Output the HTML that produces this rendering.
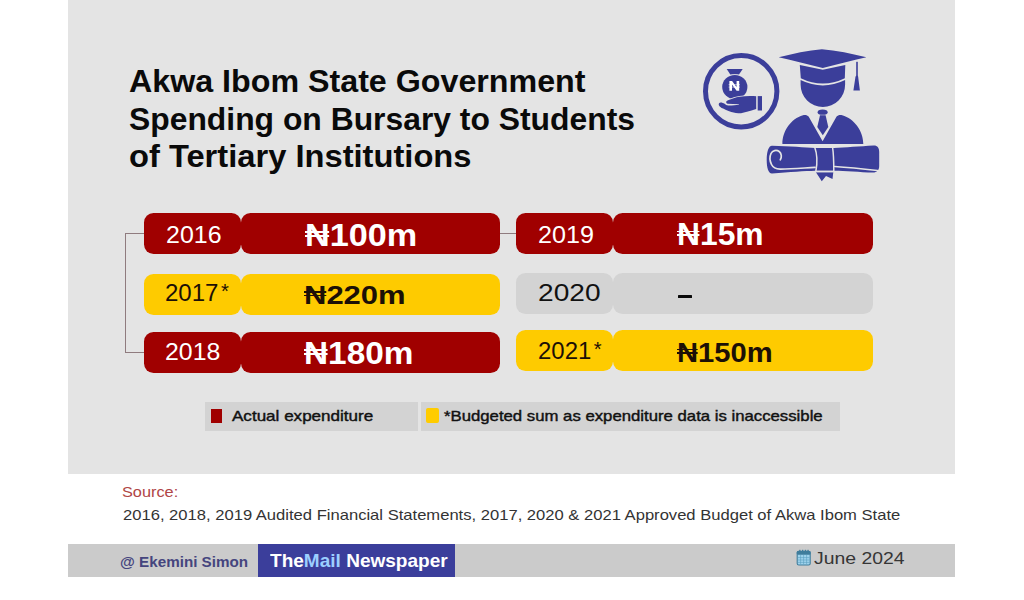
<!DOCTYPE html>
<html><head><meta charset="utf-8"><style>
*{margin:0;padding:0;box-sizing:border-box}
html,body{width:1024px;height:600px;background:#fff;overflow:hidden}
body{position:relative;font-family:"Liberation Sans",sans-serif}
.abs{position:absolute}
.tx{position:absolute;white-space:nowrap;line-height:1;transform-origin:0 0}
#lg1,#lg2{-webkit-text-stroke:0.4px #111}
.nr{position:relative;display:inline-block}
.ast{font-size:0.84em;position:relative;top:-0.13em;margin-left:0.12em}
.nr::before,.nr::after{content:'';position:absolute;left:0.012em;width:0.698em;height:0.05em;background:currentColor}
.nr::before{top:0.355em}.nr::after{top:0.477em}
#panel{left:68px;top:0;width:887px;height:474px;background:#e4e4e4}
.yr{position:absolute;width:97px;height:41.3px;border-radius:9.5px}
.val{position:absolute;width:260px;height:41.3px;border-radius:9.5px}
.red{background:#a00000}
.yel{background:#fecb00}
.gry{background:#d3d3d3}
.ln{position:absolute;background:#8f7b7e}
</style></head><body>
<div id="panel" class="abs"></div>

<!-- connectors -->
<div class="ln" style="left:125px;top:233px;width:1px;height:120px"></div>
<div class="ln" style="left:125px;top:233px;width:19px;height:1px"></div>
<div class="ln" style="left:125px;top:352px;width:19px;height:1px"></div>
<div class="ln" style="left:499px;top:233px;width:18px;height:1px"></div>

<!-- left column -->
<div class="yr red" style="left:143.5px;top:213px"></div>
<div class="val red" style="left:240.5px;top:213px;width:259px"></div>
<div class="yr yel" style="left:143.5px;top:274px"></div>
<div class="val yel" style="left:240.5px;top:274px;width:259px"></div>
<div class="yr red" style="left:143.5px;top:331.9px"></div>
<div class="val red" style="left:240.5px;top:331.9px;width:259px"></div>
<!-- right column -->
<div class="yr red" style="left:516.3px;top:213px;width:96.7px"></div>
<div class="val red" style="left:613px;top:213px"></div>
<div class="yr gry" style="left:516.3px;top:272.8px;width:96.7px"></div>
<div class="val gry" style="left:613px;top:272.8px"></div>
<div class="yr yel" style="left:516.3px;top:330.2px;width:96.7px"></div>
<div class="val yel" style="left:613px;top:330.2px"></div>

<div class="abs" style="left:678.2px;top:295px;width:13.4px;height:3.3px;background:#0a0a0a;border-radius:0.5px"></div>

<!-- icons -->
<svg class="abs" style="left:0;top:0" width="1024" height="600" viewBox="0 0 1024 600">
<g fill="#3b3e9a" stroke="#e4e4e4" stroke-width="1.6" stroke-linejoin="round" paint-order="stroke">
 <circle cx="741.2" cy="91.2" r="35.7" fill="none" stroke="#3b3e9a" stroke-width="5"/>
 <!-- money bag -->
 <path d="M726.7,69 L742.7,69 L739,74.6 L730.3,74.6 Z" stroke="none"/>
 <ellipse cx="734.8" cy="87" rx="12.6" ry="12"/>
 <path d="M729.4,90.8 V81 H732.1 L736.6,87.2 V81 H739.2 V90.8 H736.6 L732,84.6 V90.8 Z" fill="#fff" stroke="none"/>
 <path d="M728.6,84.7 H740 M728.6,87.1 H740" stroke="#fff" stroke-width="0.6" fill="none"/>
 <!-- hand -->
 <path d="M756.2,96.3 C752,95.9 745,95.9 739.4,96.8 C736,97.3 731,99 728.7,100.1 C727,100.8 726.1,101.5 726.2,102.3 C726.3,103.2 726.8,103.6 727.6,103.8 L738.9,104.2 L738.9,104.8 C736,105.4 731,105.7 728.2,105.6 C726.5,105.4 725.5,104.6 724.6,103.8 C723.3,102.9 721.8,102.3 720.6,102.4 C719.3,102.6 718.5,103.6 718.8,104.9 C719.5,106.6 721,107.5 723.1,108.6 C725,109.8 727,110.7 729.2,111.3 C732,112.3 735,113.2 738.4,113.3 C741.5,113.4 744,112.7 747,111.8 C750,110.9 753,109.9 756.2,109 Z"/>
 <rect x="757.7" y="96.1" width="4.3" height="14.4" stroke="none"/>
 <!-- mortarboard -->
 <path d="M778.7,57.3 C793,53.5 808,50.5 821.9,49.2 C836,50.5 852,53.5 866.4,57.3 C852,60.5 837,64.5 822.8,67.9 C808,64.5 793,60.5 778.7,57.3 Z" stroke="none"/>
 <path d="M799.8,65.1 L822.8,69.8 L845.3,64.9 L844.8,78.2 Q822.8,89 800.8,78.2 Z" stroke="none"/>
 <path d="M800.6,80 Q822.8,90.8 845.1,80 L845.1,84.8 A22.25,22.25 0 0 1 800.6,84.8 Z" stroke="none"/>
 <rect x="856.2" y="61.8" width="1.6" height="15" stroke="none"/>
 <path d="M856.9,75.5 C858,75.5 858.3,76.5 858.3,78 L859.9,90.4 L853.4,90.4 L855.3,78 C855.4,76.5 855.8,75.5 856.9,75.5 Z" stroke="none"/>
 <!-- jacket -->
 <path d="M782.4,144 C782.4,131 791,118.5 803,115.2 C805.5,114.6 807.5,115.3 808.6,116.6 L822.6,141.2 L836.6,116.6 C837.7,115.3 839.7,114.6 842.2,115.2 C854.2,118.5 863.3,131 863.3,144 Z" stroke="none"/>
 <ellipse cx="822.6" cy="112.2" rx="5" ry="2.6" stroke="none"/>
 <path d="M820,115.2 L825.6,115.2 L828.3,127 L822.8,135.3 L817.3,127 Z" stroke="none"/>
 <!-- scroll -->
 <path d="M772,145.8 C790,146.3 805,147.5 815,148 L834,148 C845,147.5 860,146.3 873.5,145.5 C877.5,145.3 879.2,148 879.2,152 L879.2,166 C879.2,170 877,172.5 873,172.6 C860,172 845,171 834,170.7 L815,170.7 C805,171 790,172 772,173.4 C768.5,173.5 766.7,168 766.7,160 C766.7,152 768.5,145.8 772,145.8 Z"/>
 <path d="M815.9,172.3 L833.3,172.3 L832.5,179 L826,176 L821.8,181.2 Z" stroke="none"/>
</g>
<g fill="none" stroke="#e4e4e4" stroke-width="1.5" stroke-linecap="round">
 <path d="M780.3,159.8 C781.8,157.5 781.8,153.5 779.2,151.5 C776.5,149.5 772.5,150.3 771,153.5 C769.6,156.5 769.8,161 771.5,164.5 C773,167.5 776,169 780,169.1 C790,169.2 803,168 815,167.3" stroke-width="1.7"/>
 <path d="M834.6,166.4 C848,167.2 862,168.6 877.4,170.4"/>
 <path d="M814.8,147.5 C817.2,154 817.2,164 815.9,171.2"/>
 <path d="M832.6,147.5 C833.6,154 833.8,164 833.8,171.2"/>
 <path d="M815.9,171.6 L833.5,171.6"/>
</g>
</svg>

<!-- legend -->
<div class="abs" style="left:205px;top:402px;width:212.6px;height:29.3px;background:#d3d3d3"></div>
<div class="abs" style="left:421.1px;top:402px;width:418.6px;height:29.3px;background:#d3d3d3"></div>
<div class="abs" style="left:210.5px;top:408.8px;width:11.4px;height:13.8px;background:#a00000"></div>
<div class="abs" style="left:426px;top:408px;width:12.5px;height:15px;background:#ffcc00;border-radius:2px"></div>

<!-- footer -->
<div class="abs" style="left:68px;top:544px;width:887px;height:33px;background:#cbcbcb"></div>
<div class="abs" style="left:257.5px;top:544px;width:197px;height:33px;background:#3b3e9b"></div>
<!-- calendar -->
<svg class="abs" style="left:0;top:0" width="1024" height="600" viewBox="0 0 1024 600">
 <rect x="797.2" y="551.2" width="13" height="13.8" rx="1.6" fill="#9fd3ec" stroke="#3f7d9c" stroke-width="1.1"/>
 <rect x="796.8" y="551" width="13.8" height="3.8" rx="1.2" fill="#3f7d9c"/>
 <g fill="#3f7d9c"><rect x="799.2" y="549.8" width="1.3" height="2.6"/><rect x="802" y="549.8" width="1.3" height="2.6"/><rect x="804.8" y="549.8" width="1.3" height="2.6"/><rect x="807.4" y="549.8" width="1.3" height="2.6"/></g>
 <g stroke="#5b9dc0" stroke-width="0.6">
  <path d="M798,557.6 H809.6 M798,560 H809.6 M798,562.4 H809.6"/>
  <path d="M800.6,555 V564.2 M803.6,555 V564.2 M806.6,555 V564.2"/>
 </g>
</svg>

<div id="t1" class="tx" style="left:129.46px;top:66.18px;font-size:30.5px;font-weight:bold;color:#0a0a0a;transform:scaleX(1.0562)">Akwa Ibom State Government</div>
<div id="t2" class="tx" style="left:129.44px;top:103.78px;font-size:30.5px;font-weight:bold;color:#0a0a0a;transform:scaleX(1.0440)">Spending on Bursary to Students</div>
<div id="t3" class="tx" style="left:129.39px;top:141.18px;font-size:30.5px;font-weight:bold;color:#0a0a0a;transform:scaleX(1.0713)">of Tertiary Institutions</div>
<div id="y16" class="tx" style="left:165.94px;top:222.71px;font-size:24.2px;font-weight:normal;color:#fff;transform:scaleX(1.0318)">2016</div>
<div id="y17" class="tx" style="left:165.49px;top:280.61px;font-size:24.2px;font-weight:normal;color:#1c1006;transform:scaleX(0.9941)">2017<span class="ast">*</span></div>
<div id="y18" class="tx" style="left:165.46px;top:340.21px;font-size:24.2px;font-weight:normal;color:#fff;transform:scaleX(1.0280)">2018</div>
<div id="y19" class="tx" style="left:537.96px;top:222.51px;font-size:24.2px;font-weight:normal;color:#fff;transform:scaleX(1.0396)">2019</div>
<div id="y20" class="tx" style="left:537.84px;top:281.31px;font-size:24.2px;font-weight:normal;color:#111;transform:scaleX(1.1618)">2020</div>
<div id="y21" class="tx" style="left:538.01px;top:338.61px;font-size:24.2px;font-weight:normal;color:#1c1006;transform:scaleX(0.9907)">2021<span class="ast">*</span></div>
<div id="v100" class="tx" style="left:304.51px;top:220.18px;font-size:31.2px;font-weight:bold;color:#fff;transform:scaleX(1.0973)"><span class="nr">N</span>100m</div>
<div id="v220" class="tx" style="left:304.40px;top:281.95px;font-size:26.4px;font-weight:bold;color:#1c1006;transform:scaleX(1.1741)"><span class="nr">N</span>220m</div>
<div id="v180" class="tx" style="left:304.49px;top:338.28px;font-size:31.2px;font-weight:bold;color:#fff;transform:scaleX(1.0703)"><span class="nr">N</span>180m</div>
<div id="v15" class="tx" style="left:677.48px;top:219.48px;font-size:31.2px;font-weight:bold;color:#fff;transform:scaleX(1.0197)"><span class="nr">N</span>15m</div>
<div id="v150" class="tx" style="left:677.47px;top:339.61px;font-size:26.8px;font-weight:bold;color:#1c1006;transform:scaleX(1.0885)"><span class="nr">N</span>150m</div>
<div id="lg1" class="tx" style="left:232.36px;top:409.01px;font-size:14.4px;font-weight:normal;color:#111;transform:scaleX(1.1849)">Actual expenditure</div>
<div id="lg2" class="tx" style="left:443.90px;top:409.21px;font-size:14.4px;font-weight:normal;color:#111;transform:scaleX(1.1630)">*Budgeted sum as expenditure data is inaccessible</div>
<div id="src1" class="tx" style="left:122.37px;top:484.58px;font-size:14.2px;font-weight:normal;color:#b04545;transform:scaleX(1.1489)">Source:</div>
<div id="src2" class="tx" style="left:123.35px;top:508.14px;font-size:14.6px;font-weight:normal;color:#333;transform:scaleX(1.1364)">2016, 2018, 2019 Audited Financial Statements, 2017, 2020 &amp; 2021 Approved Budget of Akwa Ibom State</div>
<div id="ek" class="tx" style="left:120.24px;top:554.13px;font-size:15.2px;font-weight:bold;color:#45457e;transform:scaleX(1.0016)">@ Ekemini Simon</div>
<div id="tm" class="tx" style="left:270.00px;top:550.91px;font-size:19.0px;font-weight:bold;color:#fff;transform:scaleX(1.0017)">The<span style="color:#9ccfff">Mail</span> Newspaper</div>
<div id="jn" class="tx" style="left:813.73px;top:549.67px;font-size:17.4px;font-weight:normal;color:#363636;transform:scaleX(1.1152)">June 2024</div>
</body></html>
